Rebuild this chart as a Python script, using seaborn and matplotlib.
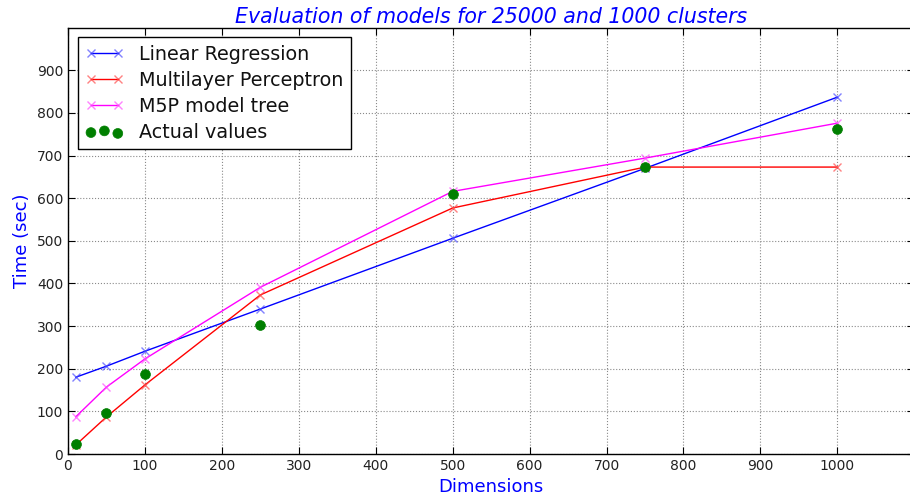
import matplotlib
matplotlib.use("Agg")
import matplotlib.pyplot as plt
import seaborn as sns

dims = [10, 50, 100, 250, 500, 750, 1000]
linear_regression = [180, 206, 241, 340, 506, 670, 837]
multilayer_perceptron = [21, 87, 162, 373, 577, 673, 673]
m5p_tree = [87, 157, 223, 391, 616, 694, 776]
actual_values = [23, 96, 188, 302, 609, 673, 762]

sns.set_style("ticks")
plt.rcParams['font.family'] = ['DejaVu Sans']

fig = plt.figure(figsize=(9.10, 5.01), dpi=100)
ax = fig.add_axes([0.0747, 0.0938, 0.93, 0.851])

series = [
    (linear_regression, '#0000ff', (0.3, 0.3, 1.0, 0.7), 'Linear Regression'),
    (multilayer_perceptron, '#ff0000', (1.0, 0.3, 0.3, 0.7), 'Multilayer Perceptron'),
    (m5p_tree, '#ff00ff', (1.0, 0.3, 1.0, 0.7), 'M5P model tree'),
]
for vals, col, mcol, lab in series:
    sns.lineplot(x=dims, y=vals, ax=ax, color=col, marker='x',
                 markersize=6, markeredgewidth=1, linewidth=1,
                 label=lab, markeredgecolor=mcol)
sns.scatterplot(x=dims, y=actual_values, ax=ax, color='#007f00', s=50,
                edgecolor='#007f00', linewidth=0.5, label='Actual values', zorder=3)

ax.set_xlim(0, 1100)
ax.set_ylim(0, 1000)
ax.set_xticks(range(0, 1001, 100))
ax.set_yticks(range(0, 901, 100))
ax.tick_params(direction='in', top=True, right=True, labelsize=10, length=5,
               color='black', labelcolor='#222222')
for s in ax.spines.values():
    s.set_color('black')
    s.set_linewidth(1)
ax.grid(True, color='#8a8a8a', linestyle=':', linewidth=0.8)

ax.set_title('Evaluation of models for 25000 and 1000 clusters', color='#0000ff',
             style='italic', fontsize=14.8, pad=3)
ax.set_xlabel('Dimensions', color='#0000ff', fontsize=13)
ax.set_ylabel('Time (sec)', color='#0000ff', fontsize=13)

leg = ax.legend(loc='upper left', numpoints=2, scatterpoints=3,
                scatteryoffsets=[0.375, 0.5, 0.3125], fontsize=13.8,
                fancybox=False, frameon=True, framealpha=1, edgecolor='black',
                borderaxespad=0.5, handlelength=2.0, labelspacing=0.36)
leg.get_frame().set_linewidth(1)
for t in leg.get_texts():
    t.set_color('#111111')

fig.savefig('out.png', dpi=100)
